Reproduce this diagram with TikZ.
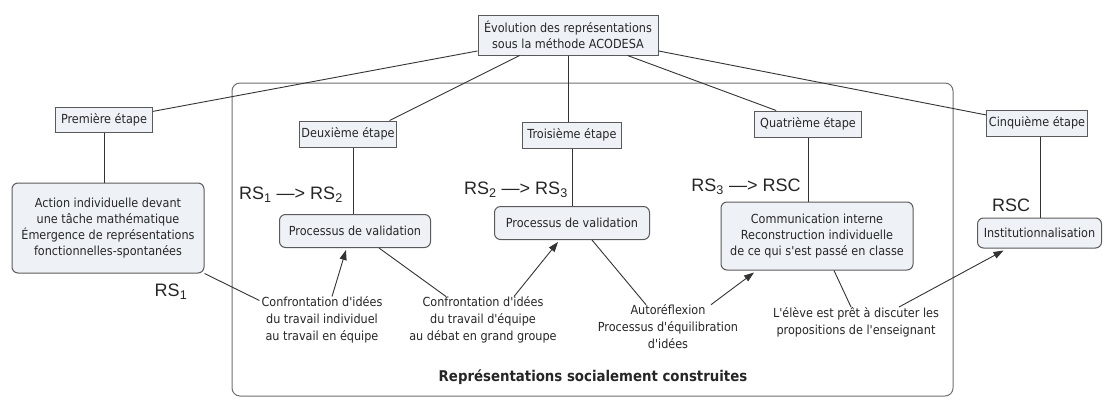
\documentclass[tikz,border=0pt]{standalone}
\usepackage{fontspec}
\setmainfont{DejaVu Sans Condensed}[Ligatures=TeXOff]
\newfontfamily\rsfont{Liberation Sans}
\usetikzlibrary{arrows.meta}
\definecolor{boxfill}{HTML}{EEF2F7}
\definecolor{boxdraw}{HTML}{5A5A5A}
\definecolor{linecol}{HTML}{333333}
\definecolor{framecol}{HTML}{707070}
\begin{document}
\begin{tikzpicture}[x=1pt,y=-1pt,
  etape/.style={draw=boxdraw, fill=boxfill, line width=1pt, inner xsep=2pt, inner ysep=0pt,
    font=\fontsize{12.5}{16}\selectfont, align=center, text=black!85},
  rbox/.style={etape, rounded corners=6pt},
  txt/.style={align=center, font=\fontsize{12.5}{17}\selectfont, inner sep=0pt, text=black!85},
  rs/.style={font=\rsfont\fontsize{18}{21}\selectfont, inner sep=0pt, text=black!85},
  conn/.style={draw=linecol, line width=0.9pt},
  arr/.style={conn, -{Triangle[length=10pt,width=7pt]}},
  frame/.style={draw=framecol, line width=1pt, rounded corners=8pt, inner sep=0pt}]

\fill[white] (0,0) rectangle (1103,400);
\useasboundingbox (0,0) rectangle (1103,400);

% frame
\node[frame, minimum width=721pt, minimum height=313pt] (frame) at (592.5,239.5) {};
\node[txt, font=\fontsize{14.8}{17}\selectfont\bfseries] (title) at (593,377) {Représentations socialement construites};

% top node
\node[etape, minimum width=180pt, minimum height=40pt] (top) at (568,35)
  {Évolution des représentations\\sous la méthode ACODESA};

% étapes
\node[etape, minimum width=97pt, minimum height=25pt] (prem) at (104,120) {Première étape};
\node[etape, minimum width=94pt, minimum height=26pt] (deux) at (348,134) {Deuxième étape};
\node[etape, minimum width=99pt, minimum height=26pt] (troi) at (572,135) {Troisième étape};
\node[etape, minimum width=107pt, minimum height=26pt] (quat) at (808,124) {Quatrième étape};
\node[etape, minimum width=101pt, minimum height=26pt] (cinq) at (1037,123) {Cinquième étape};

% rounded boxes
\node[rbox, minimum width=192pt, minimum height=90pt] (act) at (108,228)
  {Action individuelle devant\\une tâche mathématique\\Émergence de représentations\\fonctionnelles-spontanées};
\node[rbox, minimum width=151pt, minimum height=33pt] (proc1) at (355,231) {Processus de validation};
\node[rbox, minimum width=155pt, minimum height=33pt] (proc2) at (572,223) {Processus de validation};
\node[rbox, minimum width=192pt, minimum height=68pt] (comm) at (817,236)
  {Communication interne\\Reconstruction individuelle\\de ce qui s'est passé en classe};
\node[rbox, minimum width=124pt, minimum height=30pt] (inst) at (1039.5,233) {Institutionnalisation};

% free texts
\node[txt] (conf1) at (322,320) {Confrontation d'idées\\du travail individuel\\au travail en équipe};
\node[txt] (conf2) at (483,320) {Confrontation d'idées\\du travail d'équipe\\au débat en grand groupe};
\node[txt] (auto) at (668,327) {Autoréflexion\\Processus d'équilibration\\d'idées};
\node[txt] (eleve) at (856,322) {L'élève est prêt à discuter les\\propositions de l'enseignant};

% RS labels
\node[rs] (rs1) at (171,292) {RS\textsubscript{1}};
\node[rs] (rs12) at (291,195) {RS\textsubscript{1} —> RS\textsubscript{2}};
\node[rs] (rs23) at (516,190) {RS\textsubscript{2} —> RS\textsubscript{3}};
\node[rs] (rs3c) at (746,187) {RS\textsubscript{3} —> RSC};
\node[rs] (rsc) at (1011,205) {RSC};

% connectors from top
\draw[conn] (top.190) -- (prem.10);
\draw[conn] (top.203) -- (deux.18);
\draw[conn] (top.south) -- (top.south |- troi.north);
\draw[conn] (top.341) -- (quat.157);
\draw[conn] (top.350) -- (cinq.171);

% étape to content
\draw[conn] (prem.south) -- (prem.south |- act.north);
\draw[conn] ([xshift=5pt]deux.south) -- ([xshift=5pt]deux.south |- proc1.north);
\draw[conn] (troi.south) -- (troi.south |- proc2.north);
\draw[conn] (quat.south) -- (quat.south |- comm.north);
\draw[conn] ([xshift=3pt]cinq.south) -- ([xshift=3pt]cinq.south |- inst.north);

% lower connectors
\draw[conn] (act.south east) -- ([shift={(-2pt,-4pt)}]conf1.north west);
\draw[arr] ([xshift=10pt]conf1.north) -- ([xshift=-9pt,yshift=-2pt]proc1.south);
\draw[conn] ([xshift=24pt]proc1.south) -- ([xshift=-37pt]conf2.north);
\draw[arr] ([xshift=31pt]conf2.north) -- ([xshift=-14pt,yshift=-2pt]proc2.south);
\draw[conn] ([xshift=20pt]proc2.south) -- ([xshift=-22pt]auto.north);
\draw[arr] ([xshift=43pt]auto.north) -- ([xshift=-63pt,yshift=-2pt]comm.south);
\draw[conn] ([xshift=17pt]comm.south) -- ([xshift=-5pt]eleve.north);
\draw[arr] ([xshift=43pt]eleve.north) -- ([xshift=-36pt,yshift=-2pt]inst.south);
\end{tikzpicture}
\end{document}
